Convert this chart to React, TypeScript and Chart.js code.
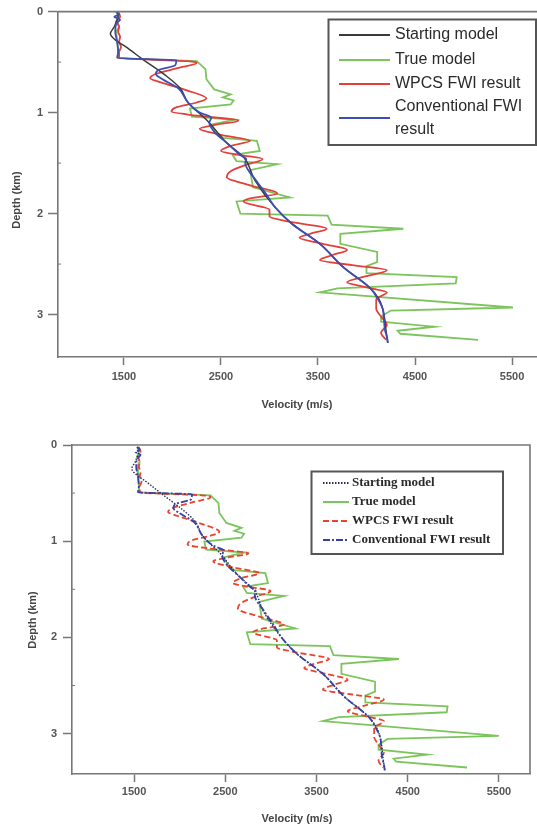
import React, { useEffect, useRef } from "react";
import { Chart, registerables } from "chart.js";
Chart.register(...registerables);

// ---------------- data ----------------
const legendLabels = ["Starting model", "True model", "WPCS FWI result", "Conventional FWI result"];
const xTickValues = [1500, 2500, 3500, 4500, 5500];
const yTickValues = [0, 1, 2, 3];
const yMinorTickValues = [0.5, 1.5, 2.5];

const startDepth = [0, 0.05, 0.1, 0.15, 0.22, 0.28, 0.35, 0.47, 0.64, 0.76, 0.9, 1.08, 1.3, 1.45, 1.67, 1.94, 2.1, 2.3, 2.53, 2.74, 2.85, 3.0, 3.15, 3.28];
const startVel = [1430, 1440, 1420, 1400, 1360, 1410, 1520, 1690, 1940, 2080, 2160, 2360, 2560, 2740, 2850, 3060, 3230, 3520, 3760, 4040, 4130, 4180, 4200, 4220];

const trueDepth = [0, 0.05, 0.1, 0.15, 0.2, 0.3, 0.4, 0.46, 0.49, 0.57, 0.67, 0.77, 0.82, 0.85, 0.88, 0.92, 0.96, 1.04, 1.07, 1.12, 1.2, 1.25, 1.28, 1.38, 1.42, 1.48, 1.51, 1.57, 1.74, 1.84, 1.88, 2.0, 2.02, 2.11, 2.15, 2.2, 2.3, 2.38, 2.48, 2.52, 2.59, 2.63, 2.69, 2.74, 2.78, 2.93, 2.96, 3.02, 3.07, 3.12, 3.16, 3.19, 3.25];
const trueVel = [1420, 1440, 1420, 1450, 1420, 1430, 1440, 1440, 2250, 2340, 2350, 2430, 2600, 2520, 2630, 2600, 2180, 2200, 2640, 2400, 2450, 2520, 2870, 2900, 2620, 2660, 3080, 2800, 2830, 3210, 2660, 2700, 3600, 3640, 4380, 3730, 3730, 4110, 4110, 4000, 4000, 4930, 4920, 3700, 3520, 5510, 4250, 4150, 4150, 4700, 4320, 4350, 5150];

const wpcsDepth = [0, 0.05, 0.1, 0.15, 0.2, 0.25, 0.3, 0.35, 0.4, 0.46, 0.49, 0.51, 0.56, 0.62, 0.66, 0.7, 0.78, 0.86, 0.9, 0.95, 0.99, 1.03, 1.08, 1.12, 1.16, 1.22, 1.28, 1.33, 1.38, 1.42, 1.46, 1.52, 1.58, 1.64, 1.72, 1.8, 1.85, 1.88, 1.96, 2.03, 2.08, 2.15, 2.2, 2.24, 2.3, 2.36, 2.41, 2.46, 2.51, 2.56, 2.62, 2.68, 2.73, 2.78, 2.85, 2.94, 3.02, 3.1, 3.18, 3.25];
const wpcsVel = [1440, 1460, 1430, 1450, 1440, 1460, 1450, 1470, 1450, 1450, 2150, 2250, 2050, 1820, 1770, 1880, 2150, 2350, 2250, 2030, 1990, 2250, 2680, 2450, 2280, 2500, 2800, 2600, 2500, 2700, 2930, 2750, 2600, 2560, 2800, 3080, 2800, 2730, 3000, 3000, 3200, 3590, 3420, 3310, 3550, 3800, 3650, 3520, 3850, 4210, 4000, 3800, 4000, 4210, 4100, 4100, 4150, 4210, 4150, 4200];

const convDepth = [0, 0.03, 0.05, 0.08, 0.12, 0.2, 0.3, 0.4, 0.46, 0.48, 0.53, 0.58, 0.62, 0.66, 0.76, 0.9, 1.0, 1.05, 1.1, 1.2, 1.3, 1.42, 1.46, 1.5, 1.67, 1.8, 1.94, 2.1, 2.3, 2.53, 2.74, 2.85, 2.95, 3.05, 3.15, 3.22, 3.28];
const convVel = [1420, 1450, 1400, 1460, 1420, 1410, 1430, 1440, 1430, 2040, 2030, 1850, 1830, 1880, 2060, 2160, 2280, 2400, 2380, 2440, 2560, 2700, 2760, 2750, 2860, 2960, 3060, 3230, 3520, 3760, 4040, 4120, 4170, 4180, 4190, 4210, 4220];

// visible axis ranges
const X_MIN = 820;
const X_MAX = 5840;
const Y_MIN = 0;
const Y_MAX = 3.42;
// the lower panel plots the curves on a slightly different frame than its printed axes
const LOWER_DATA_X = [684, 5862];
const LOWER_DATA_Y = [-0.02, 3.316];

// ---------------- helpers ----------------
function pts(d: number[], v: number[]) {
  return d.map((y, i) => ({ x: v[i], y }));
}

type SeriesStyle = { color: string; width: number; dash: number[]; smooth: boolean };

type Spec = {
  width: number;
  height: number;
  left: number;
  top: number;
  right: number;
  xAxisHeight: number;
  rightBorder: boolean;
  axisColor: string;
  axisWidth: number;
  yTickLen: number;
  yTickPad: number;
  xTickLen: number;
  xTickPad: number;
  dataX?: number[];
  dataY?: number[];
  styles: SeriesStyle[];
  yTitle: { x: number; y: number };
  xTitle: { x: number; y: number };
  legend: {
    box: [number, number, number, number];
    lineX: [number, number];
    textX: number;
    rows: { lineY: number; texts: { t: string; y: number }[] }[];
    font: string;
    lineWidth: number;
  };
};

function makeDeco(spec: Spec) {
  return {
    id: "deco",
    afterDraw(chart: any) {
      const ctx = chart.ctx as CanvasRenderingContext2D;
      const a = chart.chartArea;
      ctx.save();
      ctx.strokeStyle = spec.axisColor;
      ctx.lineWidth = spec.axisWidth;
      ctx.beginPath();
      ctx.moveTo(a.left, a.top);
      ctx.lineTo(a.right, a.top);
      if (spec.rightBorder) ctx.lineTo(a.right, a.bottom);
      ctx.stroke();
      const ys = chart.scales.y;
      ctx.lineWidth = 1;
      yMinorTickValues.forEach((t) => {
        const py = ys.getPixelForValue(t);
        ctx.beginPath();
        ctx.moveTo(a.left, py);
        ctx.lineTo(a.left + 3, py);
        ctx.stroke();
      });
      ctx.fillStyle = "#444";
      ctx.font = "bold 11px 'Liberation Sans', Arial, sans-serif";
      ctx.textAlign = "center";
      ctx.textBaseline = "middle";
      ctx.fillText("Velocity (m/s)", spec.xTitle.x, spec.xTitle.y);
      ctx.save();
      ctx.translate(spec.yTitle.x, spec.yTitle.y);
      ctx.rotate(-Math.PI / 2);
      ctx.fillText("Depth (km)", 0, 0);
      ctx.restore();
      const L = spec.legend;
      const [bx0, by0, bx1, by1] = L.box;
      ctx.fillStyle = "#fff";
      ctx.fillRect(bx0, by0, bx1 - bx0, by1 - by0);
      ctx.strokeStyle = "#555";
      ctx.lineWidth = 2;
      ctx.strokeRect(bx0, by0, bx1 - bx0, by1 - by0);
      ctx.font = L.font;
      ctx.textAlign = "left";
      ctx.textBaseline = "middle";
      L.rows.forEach((row, i) => {
        const st = spec.styles[i];
        ctx.strokeStyle = st.color;
        ctx.lineWidth = L.lineWidth;
        ctx.setLineDash(st.dash);
        ctx.beginPath();
        ctx.moveTo(L.lineX[0], row.lineY);
        ctx.lineTo(L.lineX[1], row.lineY);
        ctx.stroke();
        ctx.setLineDash([]);
        ctx.fillStyle = "#2a2a2a";
        row.texts.forEach((tx) => ctx.fillText(tx.t, L.textX, tx.y));
      });
      ctx.restore();
    },
  };
}

function makeConfig(spec: Spec): any {
  const series = [
    { d: startDepth, v: startVel, order: 2 },
    { d: trueDepth, v: trueVel, order: 4 },
    { d: wpcsDepth, v: wpcsVel, order: 3 },
    { d: convDepth, v: convVel, order: 1 },
  ];
  const tickFont = { family: "'Liberation Sans', Arial, sans-serif", size: 11, weight: "bold" as const };
  const useData = !!spec.dataX;
  const scales: any = {
    x: {
      type: "linear",
      position: "bottom",
      min: X_MIN,
      max: X_MAX,
      afterBuildTicks: (axis: any) => {
        axis.ticks = xTickValues.map((v) => ({ value: v }));
      },
      afterFit: (scale: any) => {
        scale.height = spec.xAxisHeight;
      },
      grid: {
        drawOnChartArea: false,
        drawTicks: true,
        tickLength: spec.xTickLen,
        tickColor: spec.axisColor,
        tickWidth: 1.5,
      },
      border: { display: true, color: spec.axisColor, width: spec.axisWidth },
      ticks: {
        color: "#555",
        font: tickFont,
        padding: spec.xTickPad,
        maxRotation: 0,
        autoSkip: false,
        callback: (v: any) => String(v),
      },
    },
    y: {
      type: "linear",
      position: "left",
      reverse: true,
      min: Y_MIN,
      max: Y_MAX,
      afterBuildTicks: (axis: any) => {
        axis.ticks = yTickValues.map((v) => ({ value: v }));
      },
      afterFit: (scale: any) => {
        scale.width = spec.left;
      },
      grid: {
        drawOnChartArea: false,
        drawTicks: true,
        tickLength: spec.yTickLen,
        tickColor: spec.axisColor,
        tickWidth: 1.5,
      },
      border: { display: true, color: spec.axisColor, width: spec.axisWidth },
      ticks: {
        color: "#555",
        font: tickFont,
        padding: spec.yTickPad,
        autoSkip: false,
        callback: (v: any) => String(v),
      },
    },
  };
  if (useData) {
    scales.xd = { type: "linear", axis: "x", position: "bottom", display: false, min: spec.dataX![0], max: spec.dataX![1] };
    scales.yd = { type: "linear", axis: "y", position: "left", display: false, reverse: true, min: spec.dataY![0], max: spec.dataY![1] };
  }
  return {
    type: "scatter",
    data: {
      datasets: series.map((s, i) => ({
        label: legendLabels[i],
        data: pts(s.d, s.v),
        showLine: true,
        pointRadius: 0,
        borderColor: spec.styles[i].color,
        borderWidth: spec.styles[i].width,
        borderDash: spec.styles[i].dash,
        cubicInterpolationMode: spec.styles[i].smooth ? "monotone" : "default",
        tension: 0,
        fill: false,
        order: s.order,
        xAxisID: useData ? "xd" : "x",
        yAxisID: useData ? "yd" : "y",
      })),
    },
    options: {
      indexAxis: "y",
      responsive: false,
      animation: false,
      events: [],
      layout: { padding: { top: spec.top, right: spec.right, left: 0, bottom: 0 } },
      plugins: { legend: { display: false }, tooltip: { enabled: false }, title: { display: false } },
      scales,
    },
    plugins: [makeDeco(spec)],
  };
}

// ---------------- specs ----------------
const topSpec: Spec = {
  width: 545,
  height: 410,
  left: 58,
  top: 10,
  right: 0,
  xAxisHeight: 53,
  rightBorder: false,
  axisColor: "#777",
  axisWidth: 1.6,
  yTickLen: 10,
  yTickPad: 5,
  xTickLen: 8,
  xTickPad: 5,
  styles: [
    { color: "#3a3a3a", width: 1.5, dash: [], smooth: true },
    { color: "#7cc45c", width: 1.8, dash: [], smooth: false },
    { color: "#e3403a", width: 1.8, dash: [], smooth: true },
    { color: "#3d4fb5", width: 1.8, dash: [], smooth: true },
  ],
  yTitle: { x: 17, y: 200 },
  xTitle: { x: 297, y: 405 },
  legend: {
    box: [328.5, 19.5, 536, 145],
    lineX: [339, 390],
    textX: 395,
    font: "16px 'Liberation Sans', Arial, sans-serif",
    lineWidth: 2,
    rows: [
      { lineY: 35, texts: [{ t: "Starting model", y: 35 }] },
      { lineY: 60, texts: [{ t: "True model", y: 60 }] },
      { lineY: 84, texts: [{ t: "WPCS FWI result", y: 84 }] },
      { lineY: 118, texts: [{ t: "Conventional FWI", y: 107 }, { t: "result", y: 130 }] },
    ],
  },
};

const bottomSpec: Spec = {
  width: 537,
  height: 408,
  left: 72,
  top: 25,
  right: 7,
  xAxisHeight: 54,
  rightBorder: true,
  axisColor: "#777",
  axisWidth: 1.6,
  yTickLen: 9,
  yTickPad: 6,
  xTickLen: 8,
  xTickPad: 3,
  dataX: LOWER_DATA_X,
  dataY: LOWER_DATA_Y,
  styles: [
    { color: "#2a2d5a", width: 1.4, dash: [1.5, 1.5], smooth: true },
    { color: "#7cc45c", width: 1.8, dash: [], smooth: false },
    { color: "#e8452f", width: 1.8, dash: [6, 3], smooth: true },
    { color: "#3242a8", width: 1.8, dash: [7, 2, 2, 2], smooth: true },
  ],
  yTitle: { x: 33, y: 200 },
  xTitle: { x: 297, y: 399 },
  legend: {
    box: [311.5, 51.5, 503, 134],
    lineX: [323, 349],
    textX: 352,
    font: "bold 13px 'Liberation Serif', 'Times New Roman', serif",
    lineWidth: 2,
    rows: [
      { lineY: 63, texts: [{ t: "Starting model", y: 63 }] },
      { lineY: 82, texts: [{ t: "True model", y: 82 }] },
      { lineY: 101, texts: [{ t: "WPCS FWI result", y: 101 }] },
      { lineY: 120, texts: [{ t: "Conventional FWI result", y: 120 }] },
    ],
  },
};

function ChartCanvas({ spec, top }: { spec: Spec; top: number }) {
  const ref = useRef<HTMLCanvasElement | null>(null);
  useEffect(() => {
    if (!ref.current) return;
    const chart = new Chart(ref.current, makeConfig(spec));
    return () => chart.destroy();
  }, [spec]);
  return (
    <canvas
      ref={ref}
      width={spec.width}
      height={spec.height}
      style={{ position: "absolute", left: 0, top, width: spec.width, height: spec.height, display: "block" }}
    />
  );
}

export default function App() {
  return (
    <div
      style={{
        position: "absolute",
        left: 0,
        top: 0,
        width: 537,
        height: 828,
        overflow: "hidden",
        background: "#fff",
      }}
    >
      <ChartCanvas spec={topSpec} top={0} />
      <ChartCanvas spec={bottomSpec} top={420} />
    </div>
  );
}
